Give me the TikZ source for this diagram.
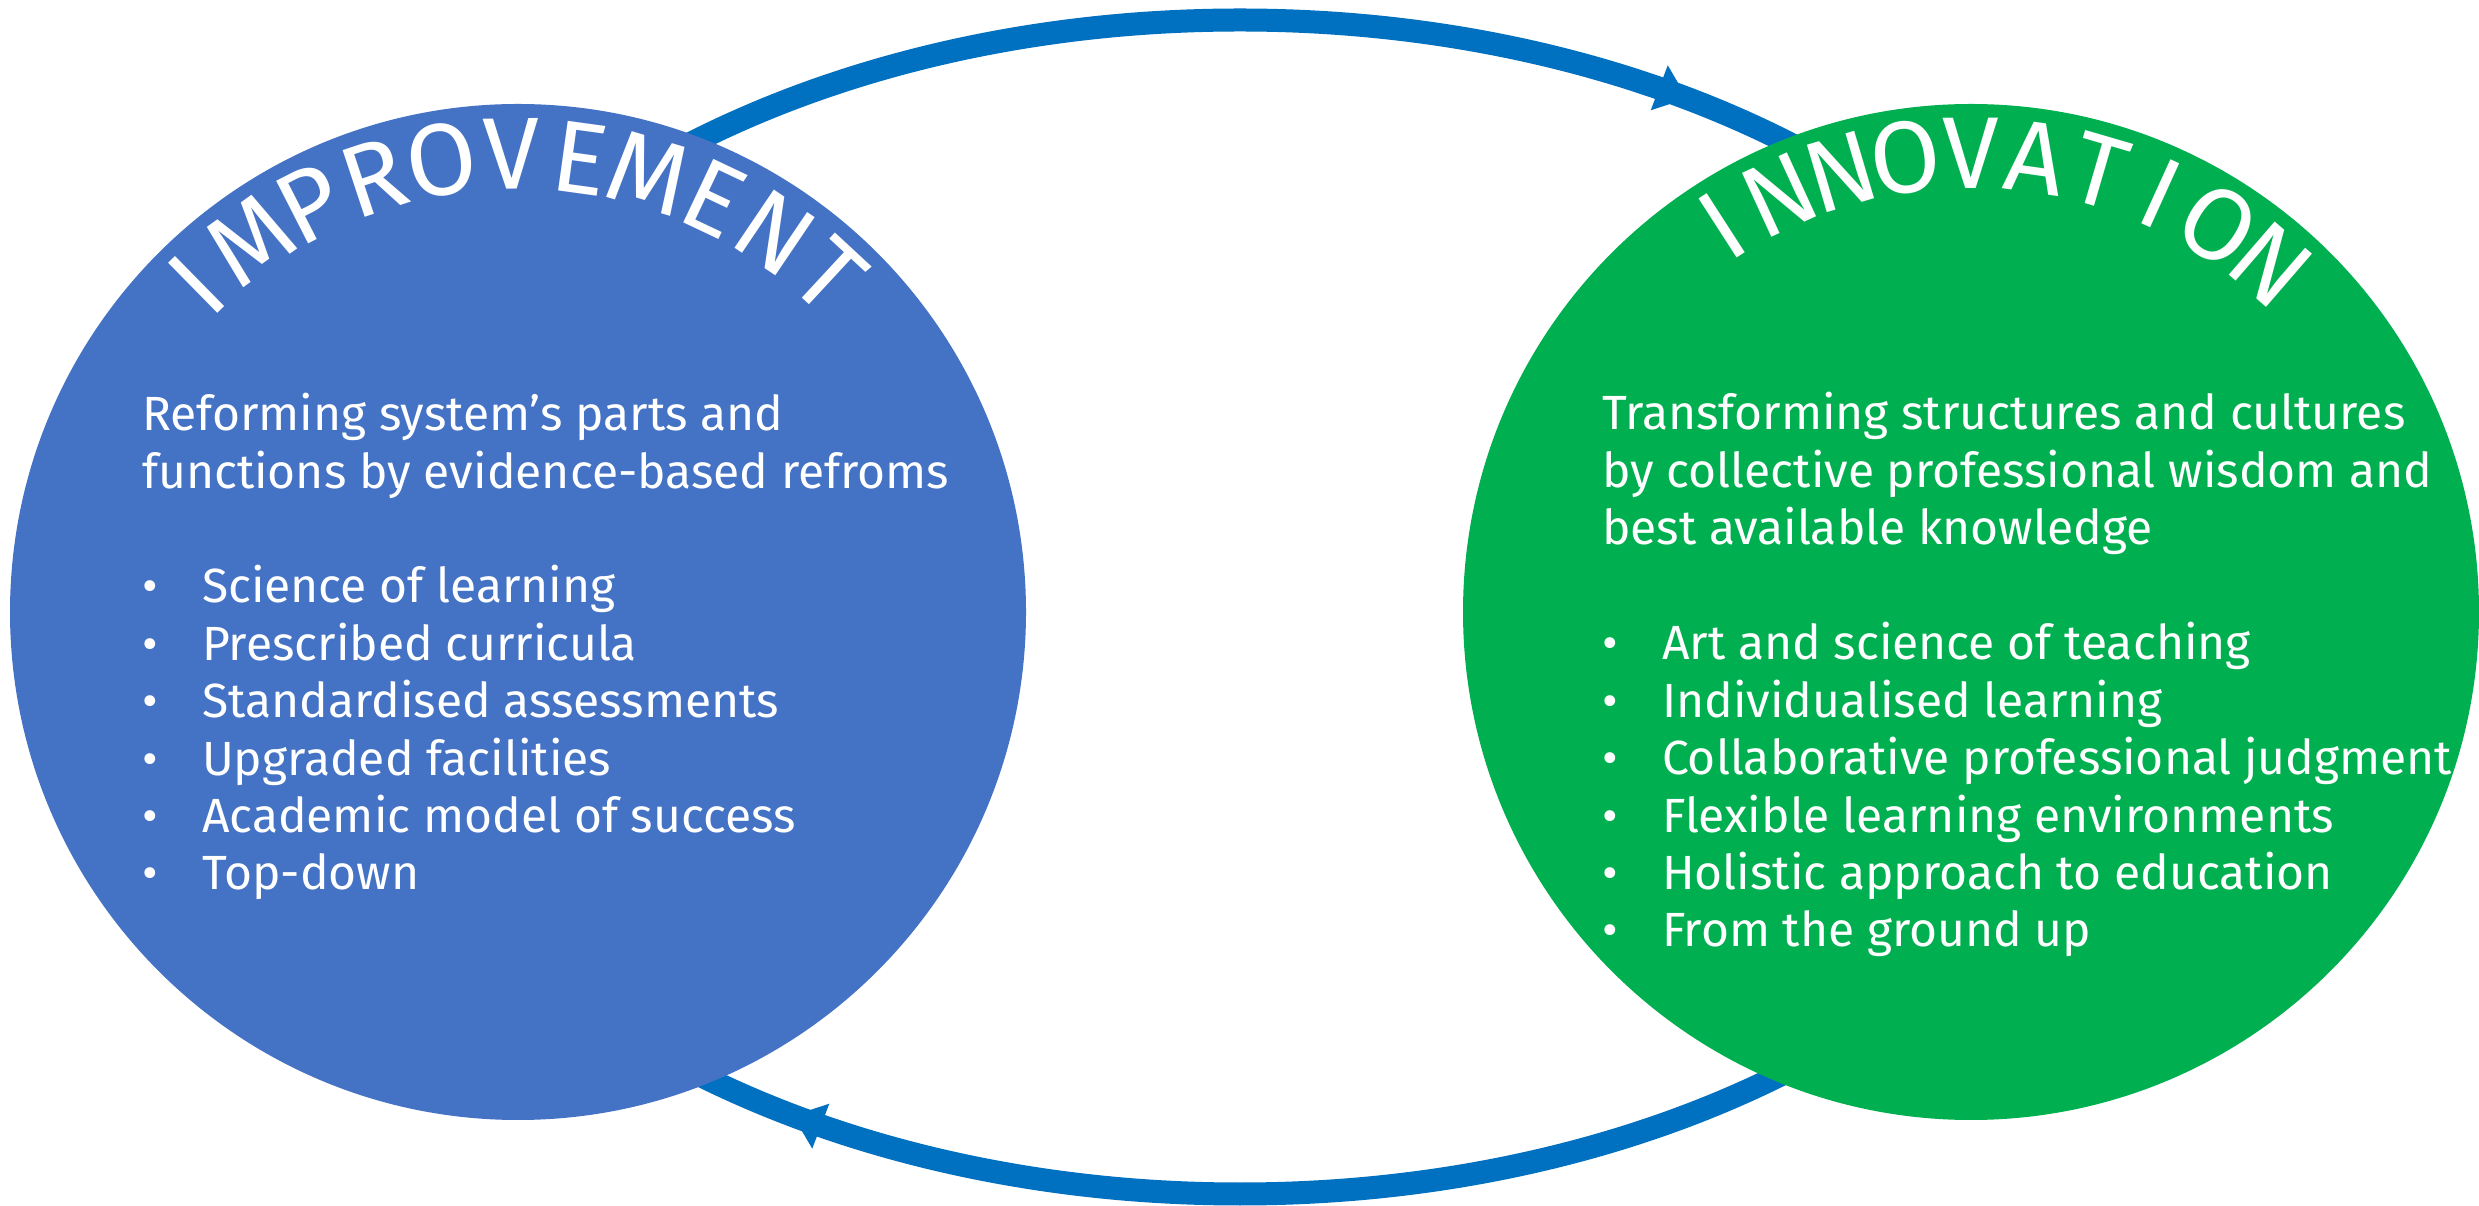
\documentclass[tikz,border=0pt]{standalone}
\usepackage{fontspec}
\setmainfont{Fira Sans}
\usetikzlibrary{calc,decorations.markings,arrows.meta}

\definecolor{impblue}{HTML}{4472C4}
\definecolor{inngreen}{HTML}{00B050}
\definecolor{cycleblue}{HTML}{0070C0}

\newlength\cwlen
\newcommand\titlefont{\fontsize{51pt}{60pt}\selectfont}
\newcommand\bodyfont{\fontsize{24pt}{28.7pt}\selectfont}

% Letters of a word set one by one along an arc round a centre.
% #1 name prefix, #2 centre, #3 baseline radius, #4 angle of first letter,
% #5 angle of last letter, #6 comma separated letters
\newcommand\curvedword[6]{%
  \gdef\cwSum{0}\gdef\cwN{0}%
  \foreach \ch [count=\k] in {#6}{%
    \settowidth{\cwlen}{\titlefont\ch}%
    \pgfmathparse{\cwSum+\cwlen}\xdef\cwSum{\pgfmathresult}%
    \xdef\cwN{\k}%
    \ifnum\k=1 \xdef\cwFirst{\the\cwlen}\fi
    \xdef\cwLast{\the\cwlen}%
  }%
  \pgfmathparse{((#4-#5)*pi/180*#3*0.5-(\cwSum-\cwFirst/2-\cwLast/2))/(\cwN-1)}%
  \xdef\cwGap{\pgfmathresult}%
  \gdef\cwRun{0}%
  \foreach \ch [count=\k] in {#6}{%
    \settowidth{\cwlen}{\titlefont\ch}%
    \pgfmathsetmacro\cwA{#4-(\cwRun+\cwlen/2-\cwFirst/2)/(#3*0.5)*180/pi}%
    \pgfmathsetmacro\cwR{\cwA-90}%
    \node[titleletter, rotate=\cwR] (#1-\k) at ($(#2)+(\cwA:#3)$) {\ch};
    \pgfmathparse{\cwRun+\cwlen+\cwGap}\xdef\cwRun{\pgfmathresult}%
  }%
}

\tikzset{
  bubble/.style={circle, inner sep=0pt, outer sep=0pt, minimum size=508pt, draw=none},
  titleletter/.style={anchor=base, inner sep=0pt, outer sep=0pt, text=white, font=\titlefont},
  bodytext/.style={anchor=base west, inner sep=0pt, outer sep=0pt, text=white, font=\bodyfont},
  cyclearc/.style={line width=11.5pt, draw=cycleblue},
  midarrow/.style={postaction={decorate}, decoration={markings,
      mark=at position #1 with {\arrow{Triangle[length=15pt,width=23pt]}}}},
}

\begin{document}
\begin{tikzpicture}[x=0.5pt, y=0.5pt]
  \fill[white] (0,0) rectangle (2479,1205);
  \useasboundingbox (0,0) rectangle (2479,1205);

  % the cycle running between the two circles
  \coordinate (cyc) at (1240,598);
  \draw[cyclearc, midarrow=0.694] ($(cyc)+(-895,0)$)
    arc[start angle=180, end angle=0, x radius=895, y radius=587];
  \draw[cyclearc, midarrow=0.694] ($(cyc)+(895,0)$)
    arc[start angle=0, end angle=-180, x radius=895, y radius=587];

  % the two circles
  \node[bubble, fill=impblue] (imp) at (518,593) {};
  \node[bubble, fill=inngreen] (inn) at (1971,593) {};

  % curved headings
  \curvedword{improvement}{imp.center}{423}{134.5}{47.2}{I,M,P,R,O,V,E,M,E,N,T}
  \curvedword{innovation}{inn.center}{424}{122.8}{49.2}{I,N,N,O,V,A,T,I,O,N}

  % improvement text
  \node[bodytext] (impintro) at (142,774) {\begin{tabular}[t]{@{}l@{}}
    Reforming system’s parts and\\
    functions by evidence-based refroms\end{tabular}};
  \node[bodytext] (impitems) at (142,602) {\begin{tabular}[t]{@{}l@{}}
    \makebox[30pt][l]{\textbullet}Science of learning\\
    \makebox[30pt][l]{\textbullet}Prescribed curricula\\
    \makebox[30pt][l]{\textbullet}Standardised assessments\\
    \makebox[30pt][l]{\textbullet}Upgraded facilities\\
    \makebox[30pt][l]{\textbullet}Academic model of success\\
    \makebox[30pt][l]{\textbullet}Top-down\end{tabular}};

  % innovation text
  \node[bodytext] (innintro) at (1602,775) {\begin{tabular}[t]{@{}l@{}}
    Transforming structures and cultures\\
    by collective professional wisdom and\\
    best available knowledge\end{tabular}};
  \node[bodytext] (innitems) at (1602,545) {\begin{tabular}[t]{@{}l@{}}
    \makebox[30pt][l]{\textbullet}Art and science of teaching\\
    \makebox[30pt][l]{\textbullet}Individualised learning\\
    \makebox[30pt][l]{\textbullet}Collaborative professional judgment\\
    \makebox[30pt][l]{\textbullet}Flexible learning environments\\
    \makebox[30pt][l]{\textbullet}Holistic approach to education\\
    \makebox[30pt][l]{\textbullet}From the ground up\end{tabular}};
\end{tikzpicture}
\end{document}
